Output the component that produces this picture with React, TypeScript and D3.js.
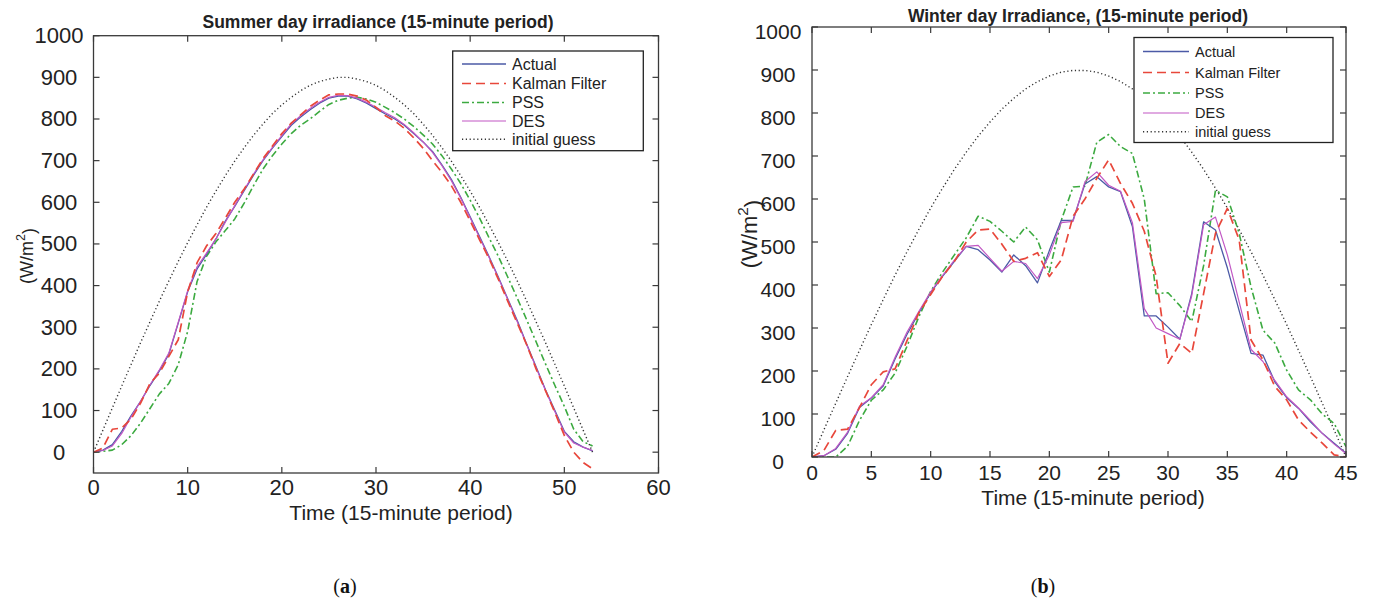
import React from "react";
import * as d3 from "d3";

// ---------- data ----------
const seriesNames = ["Actual", "Kalman Filter", "PSS", "DES", "initial guess"];

const summerTime = d3.range(0, 54);
const summerActual = [0, 5, 18, 50, 88, 122, 160, 195, 235, 310, 385, 440, 475, 512, 555, 590, 628, 665, 700, 730, 758, 785, 805, 822, 838, 850, 855, 855, 848, 838, 825, 812, 800, 785, 765, 745, 722, 690, 655, 612, 565, 518, 470, 420, 368, 316, 260, 205, 150, 100, 50, 25, 12, 3];
const summerKalman = [0, 10, 55, 58, 80, 118, 165, 190, 230, 270, 385, 455, 495, 525, 562, 600, 632, 668, 705, 735, 765, 790, 810, 830, 845, 858, 860, 860, 855, 845, 828, 808, 795, 778, 755, 730, 700, 672, 640, 600, 555, 510, 465, 415, 362, 310, 258, 200, 148, 95, 40, 0, -25, -40];
const summerPSS = [0, 2, 5, 18, 40, 70, 105, 140, 165, 210, 290, 410, 470, 505, 532, 560, 598, 640, 680, 712, 740, 765, 785, 800, 818, 835, 845, 850, 852, 848, 840, 828, 815, 800, 782, 762, 740, 712, 680, 645, 605, 562, 515, 470, 420, 370, 318, 265, 212, 160, 110, 55, 25, 15];
const summerDES = [0, 4, 15, 45, 85, 122, 162, 198, 238, 312, 388, 445, 478, 512, 552, 592, 630, 668, 702, 732, 760, 788, 808, 825, 840, 852, 857, 856, 850, 840, 828, 815, 803, 787, 767, 745, 720, 688, 652, 610, 563, 515, 468, 418, 366, 313, 258, 203, 148, 97, 48, 22, 12, 4];
const summerGuess = [0, 53, 106, 159, 211, 263, 313, 363, 411, 458, 503, 546, 588, 627, 664, 699, 731, 761, 788, 813, 834, 852, 868, 881, 890, 896, 900, 900, 896, 890, 881, 868, 852, 834, 813, 788, 761, 731, 699, 664, 627, 588, 546, 503, 458, 411, 363, 313, 263, 211, 159, 106, 53, 0];

const winterTime = d3.range(0, 46);
const winterActual = [0, 3, 18, 55, 115, 137, 165, 228, 285, 335, 382, 420, 455, 490, 482, 458, 430, 470, 445, 405, 480, 550, 551, 635, 652, 628, 617, 536, 328, 328, 302, 274, 380, 547, 528, 440, 340, 241, 237, 175, 138, 113, 82, 55, 32, 9];
const winterKalman = [0, 15, 62, 65, 115, 168, 198, 205, 270, 335, 378, 420, 455, 500, 528, 530, 495, 455, 462, 475, 420, 458, 560, 600, 648, 691, 636, 590, 525, 420, 218, 264, 241, 380, 520, 578, 505, 272, 226, 164, 133, 86, 58, 32, 5, 0];
const winterPSS = [0, 0, 0, 25, 85, 132, 156, 195, 257, 326, 385, 430, 470, 510, 560, 548, 525, 500, 535, 505, 430, 550, 628, 630, 732, 750, 722, 706, 600, 380, 382, 352, 315, 445, 620, 605, 520, 395, 295, 265, 202, 156, 133, 100, 78, 24];
const winterDES = [0, 3, 20, 58, 118, 138, 168, 232, 290, 338, 384, 422, 458, 490, 492, 462, 432, 455, 450, 415, 470, 545, 548, 640, 663, 632, 618, 545, 345, 300, 287, 274, 375, 540, 558, 470, 360, 250, 222, 178, 140, 114, 85, 55, 30, 8];
const winterGuess = [0, 63, 125, 187, 248, 308, 366, 423, 477, 529, 579, 625, 669, 709, 746, 779, 809, 834, 856, 873, 886, 895, 899, 899, 895, 886, 873, 856, 834, 809, 779, 746, 709, 669, 625, 579, 529, 477, 423, 366, 308, 248, 187, 125, 63, 0];

const summerXTicks = [0, 10, 20, 30, 40, 50, 60];
const winterXTicks = [0, 5, 10, 15, 20, 25, 30, 35, 40, 45];
const yTicks = [0, 100, 200, 300, 400, 500, 600, 700, 800, 900, 1000];

// ---------- styles ----------
const STYLES = [
  { color: "#4b5aa6", dash: undefined, width: 1.3 },
  { color: "#e8473b", dash: "9 5", width: 1.7 },
  { color: "#3caa40", dash: "7 3 2 3", width: 1.6 },
  { color: "#c157c4", dash: undefined, width: 1.2 },
  { color: "#333333", dash: "1.2 2.6", width: 1.4 },
];
const DRAW_ORDER = [4, 2, 0, 3, 1];
const FONT = "'Liberation Sans', Arial, Helvetica, sans-serif";
const AXIS = "#3a3a3a";

type PanelCfg = {
  id: string;
  time: number[];
  series: number[][];
  xDomain: [number, number];
  yDomain: [number, number];
  xTicks: number[];
  left: number; right: number; top: number; bottom: number;
  title: string; titleX: number; titleY: number;
  xLabelX: number; xLabelY: number;
  yLabelX: number; yLabelY: number; yLabelSize: number;
  tickFont: number; yTickX: number; yTickDy: number; xTickY: number;
  legend: { x: number; y: number; w: number; h: number; rows: number[]; lx1: number; lx2: number; tx: number; font: number };
};

function Panel({ p }: { p: PanelCfg }) {
  const x = d3.scaleLinear().domain(p.xDomain).range([p.left, p.right]);
  const y = d3.scaleLinear().domain(p.yDomain).range([p.bottom, p.top]);
  const lineGen = d3.line<number>().x((_, i) => x(p.time[i])).y((d) => y(d));
  const clipId = p.id + "-clip";
  const tl = 6;
  const L = p.legend;
  return (
    <g>
      <defs>
        <clipPath id={clipId}>
          <rect x={p.left} y={p.top} width={p.right - p.left} height={p.bottom - p.top} />
        </clipPath>
      </defs>
      <g clipPath={`url(#${clipId})`}>
        {DRAW_ORDER.map((i) => (
          <path key={i} d={lineGen(p.series[i]) || ""} fill="none" stroke={STYLES[i].color}
            strokeWidth={STYLES[i].width} strokeDasharray={STYLES[i].dash} strokeLinejoin="round" />
        ))}
      </g>
      <rect x={p.left} y={p.top} width={p.right - p.left} height={p.bottom - p.top} fill="none" stroke={AXIS} strokeWidth={1.3} />
      {p.xTicks.map((t) => (
        <g key={"xt" + t}>
          <line x1={x(t)} x2={x(t)} y1={p.bottom} y2={p.bottom - tl} stroke={AXIS} strokeWidth={1.2} />
          <line x1={x(t)} x2={x(t)} y1={p.top} y2={p.top + tl} stroke={AXIS} strokeWidth={1.2} />
          <text x={x(t)} y={p.xTickY} textAnchor="middle" dominantBaseline="central" fontFamily={FONT} fontSize={p.tickFont} fill="#222">{t}</text>
        </g>
      ))}
      {yTicks.map((t) => (
        <g key={"yt" + t}>
          <line x1={p.left} x2={p.left + tl} y1={y(t)} y2={y(t)} stroke={AXIS} strokeWidth={1.2} />
          <line x1={p.right} x2={p.right - tl} y1={y(t)} y2={y(t)} stroke={AXIS} strokeWidth={1.2} />
          <text x={p.yTickX} y={y(t) + p.yTickDy} textAnchor="middle" dominantBaseline="central" fontFamily={FONT} fontSize={p.tickFont} fill="#222">{t}</text>
        </g>
      ))}
      <text x={p.titleX} y={p.titleY} textAnchor="middle" dominantBaseline="central" fontFamily={FONT} fontSize={17.5} fontWeight="bold" fill="#222">{p.title}</text>
      <text x={p.xLabelX} y={p.xLabelY} textAnchor="middle" dominantBaseline="central" fontFamily={FONT} fontSize={21} fill="#222">Time (15-minute period)</text>
      <text transform={`translate(${p.yLabelX},${p.yLabelY}) rotate(-90)`} textAnchor="middle" dominantBaseline="central" fontFamily={FONT} fontSize={p.yLabelSize} fill="#222">
        (W/m<tspan dy="-0.45em" fontSize="0.7em">2</tspan><tspan dy="0.45em">)</tspan>
      </text>
      <rect x={L.x} y={L.y} width={L.w} height={L.h} fill="#fff" stroke="#222" strokeWidth={1.3} />
      {seriesNames.map((name, i) => (
        <g key={name}>
          <line x1={L.lx1} x2={L.lx2} y1={L.rows[i]} y2={L.rows[i]} stroke={STYLES[i].color} strokeWidth={STYLES[i].width} strokeDasharray={STYLES[i].dash} />
          <text x={L.tx} y={L.rows[i]} dominantBaseline="central" fontFamily={FONT} fontSize={L.font} fill="#222">{name}</text>
        </g>
      ))}
    </g>
  );
}

const summerPanel: PanelCfg = {
  id: "summer",
  time: summerTime,
  series: [summerActual, summerKalman, summerPSS, summerDES, summerGuess],
  xDomain: [0, 60], yDomain: [-50, 1000], xTicks: summerXTicks,
  left: 93.5, right: 658.5, top: 35.7, bottom: 473,
  title: "Summer day irradiance (15-minute period)", titleX: 378, titleY: 22,
  xLabelX: 401, xLabelY: 512,
  yLabelX: 27, yLabelY: 256, yLabelSize: 18,
  tickFont: 22, yTickX: 59, yTickDy: 0, xTickY: 487,
  legend: { x: 452.7, y: 51, w: 190.6, h: 99.7, rows: [64, 83.5, 102.5, 121, 139.3], lx1: 462, lx2: 506, tx: 512, font: 16 },
};

const winterPanel: PanelCfg = {
  id: "winter",
  time: winterTime,
  series: [winterActual, winterKalman, winterPSS, winterDES, winterGuess],
  xDomain: [0, 45], yDomain: [0, 1000], xTicks: winterXTicks,
  left: 812, right: 1346, top: 27, bottom: 457,
  title: "Winter day Irradiance, (15-minute period)", titleX: 1078, titleY: 16,
  xLabelX: 1093, xLabelY: 497,
  yLabelX: 749, yLabelY: 234, yLabelSize: 22,
  tickFont: 21, yTickX: 778, yTickDy: 4, xTickY: 472,
  legend: { x: 1134, y: 37.5, w: 199, h: 105, rows: [51.5, 72.5, 93, 113, 131.7], lx1: 1143, lx2: 1189, tx: 1195, font: 14.5 },
};

export default function App() {
  return (
    <svg width={1377} height={612} style={{ position: "absolute", left: 0, top: 0, display: "block" }}>
      <rect x={0} y={0} width={1377} height={612} fill="#ffffff" />
      <Panel p={summerPanel} />
      <Panel p={winterPanel} />
      <text x={345} y={593} textAnchor="middle" fontFamily="'Liberation Serif', 'Times New Roman', serif" fontSize={20} fill="#111">
        (<tspan fontWeight="bold">a</tspan>)
      </text>
      <text x={1043} y={593} textAnchor="middle" fontFamily="'Liberation Serif', 'Times New Roman', serif" fontSize={20} fill="#111">
        (<tspan fontWeight="bold">b</tspan>)
      </text>
    </svg>
  );
}
